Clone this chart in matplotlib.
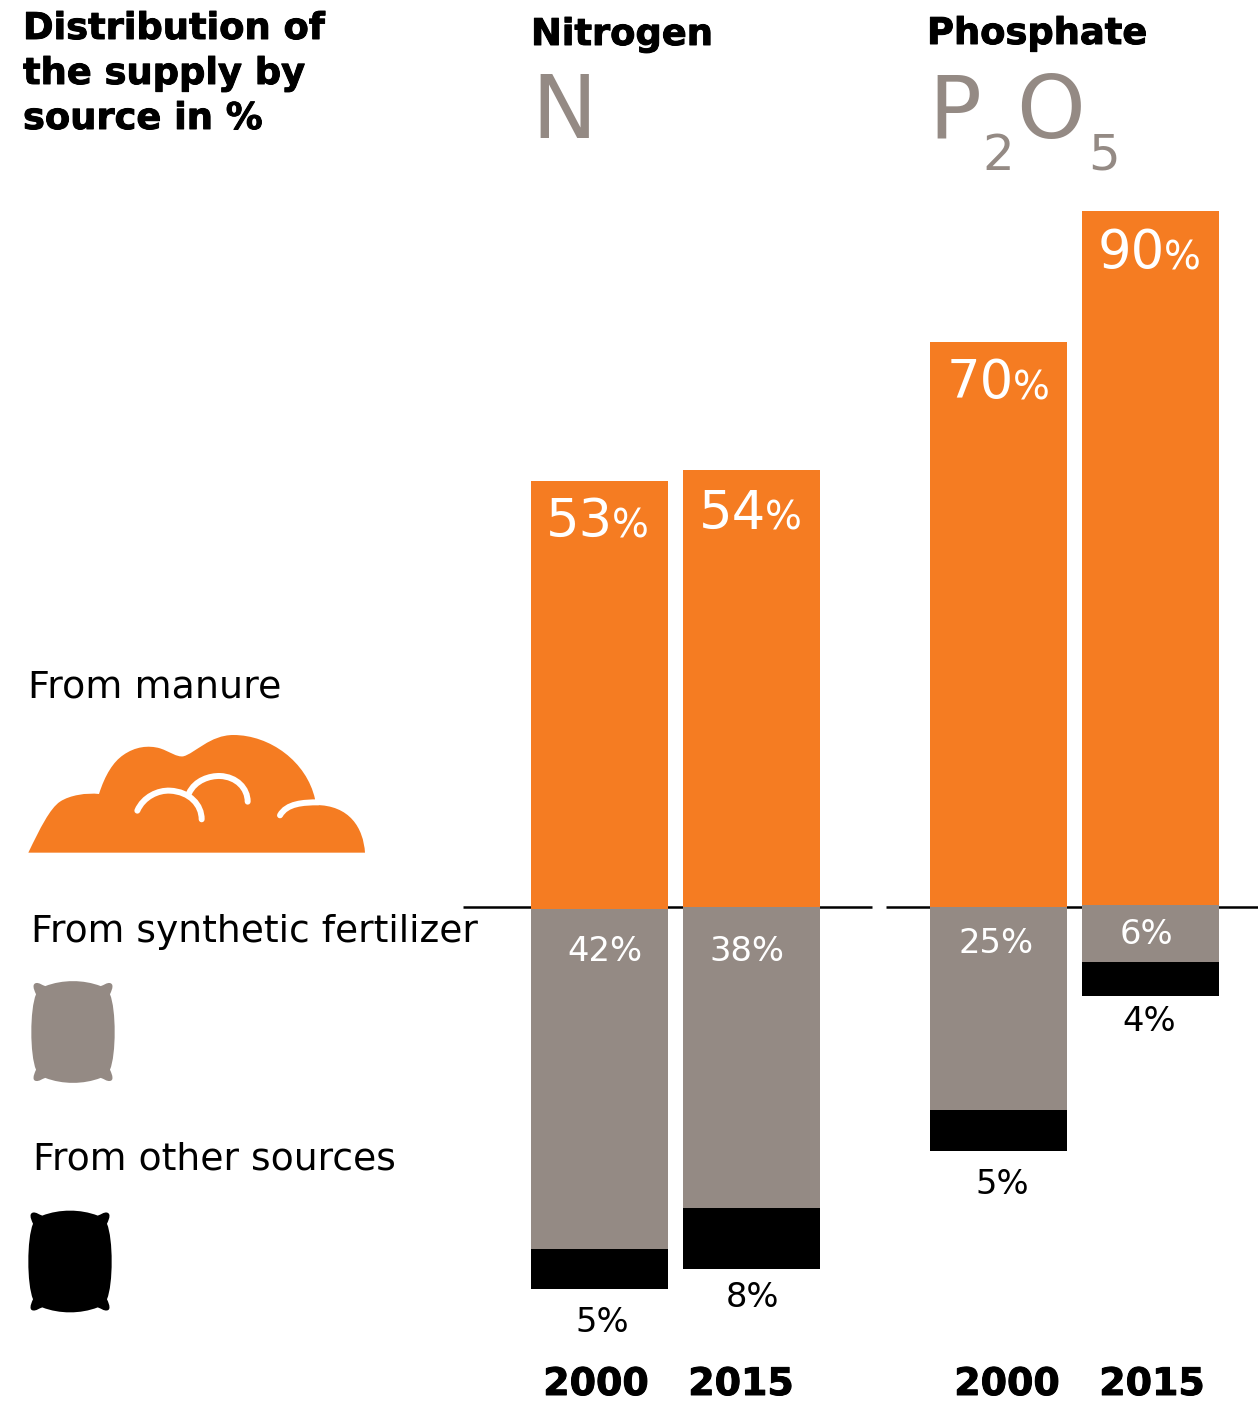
import matplotlib
matplotlib.use("Agg")
import matplotlib.pyplot as plt
import matplotlib.patheffects as pe
from matplotlib.patches import PathPatch
from matplotlib.path import Path

groups = ["Nitrogen", "Phosphate"]
years = ["2000", "2015", "2000", "2015"]
manure_labels = [53, 54, 70, 90]
synthetic_labels = [42, 38, 25, 6]
other_labels = [5, 8, 5, 4]
# heights as drawn in the picture (the printed labels differ slightly)
manure_drawn = [53.2, 54.3, 70.25, 86.2]
synthetic_drawn = [42.2, 37.4, 25.2, 7.1]
other_drawn = [5.0, 7.6, 5.1, 4.2]
base_offset = [-0.25, 0.0, -0.06, 0.25]

ORANGE = "#F57C22"
GREY = "#948A84"
W, H = 1258, 1401
PX_PER_PCT = 8.05
ZERO_Y = 907.0

fig = plt.figure(figsize=(W / 100, H / 100), dpi=100)
ax = fig.add_axes([0, 0, 1, 1])
ax.set_xlim(0, W)
ax.set_ylim((ZERO_Y - H) / PX_PER_PCT, ZERO_Y / PX_PER_PCT)
ax.axis("off")
ov = fig.add_axes([0, 0, 1, 1], zorder=5)
ov.set_xlim(0, W)
ov.set_ylim(H, 0)
ov.axis("off")
ov.patch.set_alpha(0)

bar_left = [531, 683, 930, 1082]
bar_w = 137
ax.plot([463, 872], [0, 0], color="black", lw=1.8, zorder=1, solid_capstyle="butt")
ax.plot([886, 1258], [0, 0], color="black", lw=1.8, zorder=1, solid_capstyle="butt")
for i, x in enumerate(bar_left):
    b = base_offset[i]
    ax.bar(x, manure_drawn[i], bar_w, bottom=b, align="edge", color=ORANGE, zorder=2)
    ax.bar(x, -synthetic_drawn[i], bar_w, bottom=b, align="edge", color=GREY, zorder=2)
    ax.bar(x, -other_drawn[i], bar_w, bottom=b - synthetic_drawn[i], align="edge", color="black", zorder=2)


def t(x, y, s, size, color="black", weight="normal", ha="left", va="baseline"):
    txt = ov.text(x, y, s, fontsize=size, color=color, fontweight=weight, ha=ha, va=va,
                  family="DejaVu Sans")
    if weight == "bold":
        txt.set_path_effects([pe.withStroke(linewidth=0.7, foreground=color)])


for y, s in zip([39, 84, 129], ["Distribution of", "the supply by", "source in %"]):
    t(23, y, s, 26.5, weight="bold")
t(531, 45, groups[0], 26.5, weight="bold")
t(927, 44, groups[1], 26.5, weight="bold")
t(531, 138, "N", 63, GREY)
t(928, 138, "P", 63, GREY)
t(982, 170, "2", 36, GREY)
t(1016, 138, "O", 63, GREY)
t(1088, 170, "5", 36, GREY)

t(28, 697, "From manure", 27.4)
t(31, 942, "From synthetic fertilizer", 27.1)
t(33, 1169, "From other sources", 27.2)

big_x = [546, 699, 947, 1098]
big_y = [537, 529, 398, 268]
for x, y, v in zip(big_x, big_y, manure_labels):
    t(x, y, f"{v}", 38, "white")
    t(x + 66, y + 1, "%", 28, "white")

syn_x = [605, 747, 996, 1146]
syn_y = [961, 961, 953, 944]
for x, y, v in zip(syn_x, syn_y, synthetic_labels):
    t(x, y, f"{v}%", 24.3, "white", ha="center")
oth_x = [602, 753, 1002, 1149]
oth_y = [1332, 1307, 1194, 1031]
for x, y, v in zip(oth_x, oth_y, other_labels):
    t(x, y, f"{v}%", 24.3, "black", ha="center")
for x, s in zip([596, 741, 1007, 1152], years):
    t(x, 1395, s, 27.3, weight="bold", ha="center")


def zc(pts):
    return [(20 + a / 3, 725 + b / 3) for a, b in pts]


M, C, L, Z = Path.MOVETO, Path.CURVE4, Path.LINETO, Path.CLOSEPOLY
cloud = zc([(25, 383), (60, 310), (90, 250), (120, 230), (150, 210), (200, 203), (237, 207),
            (255, 150), (280, 110), (310, 90), (345, 65), (385, 60), (420, 70),
            (450, 80), (470, 97), (490, 94), (525, 85), (570, 30), (640, 30),
            (750, 30), (860, 110), (885, 222), (885, 230), (885, 235), (885, 240),
            (990, 240), (1030, 310), (1035, 383), (1035, 383)])
codes = [M] + [C] * 27 + [L]
ov.add_patch(PathPatch(Path(cloud + [cloud[0]], codes + [Z]), fc=ORANGE, ec="none"))
arcs = [
    [(352, 257), (370, 215), (415, 195), (450, 197), (510, 200), (545, 240), (545, 283)],
    [(507, 205), (525, 165), (570, 152), (600, 153), (650, 155), (683, 190), (683, 230)],
    [(780, 271), (800, 235), (850, 232), (895, 232)],
]
for a in arcs:
    ov.add_patch(PathPatch(Path(zc(a), [M] + [C] * (len(a) - 1)), fc="none", ec="white",
                           lw=4.3, capstyle="round"))


def sack(cx, cy, hw, hh, color):
    # left half outline in unit coordinates, then mirrored
    p = [(-0.66, -0.90),
         (-0.74, -0.92), (-0.80, -0.97), (-0.88, -0.96),
         (-0.97, -0.94), (-0.95, -0.86), (-0.88, -0.74),
         (-1.03, -0.45), (-1.03, 0.45), (-0.88, 0.74),
         (-0.95, 0.86), (-0.97, 0.95), (-0.88, 0.96),
         (-0.80, 0.97), (-0.74, 0.92), (-0.66, 0.90),
         (-0.25, 1.03), (0.25, 1.03), (0.66, 0.90),
         (0.74, 0.92), (0.80, 0.97), (0.88, 0.96),
         (0.97, 0.95), (0.95, 0.86), (0.88, 0.74),
         (1.03, 0.45), (1.03, -0.45), (0.88, -0.74),
         (0.95, -0.86), (0.97, -0.94), (0.88, -0.96),
         (0.80, -0.97), (0.74, -0.92), (0.66, -0.90),
         (0.25, -1.03), (-0.25, -1.03), (-0.66, -0.90)]
    pts = [(cx + a * hw, cy + b * hh) for a, b in p]
    ov.add_patch(PathPatch(Path(pts, [M] + [C] * (len(pts) - 1)), fc=color, ec="none"))


sack(73, 1032, 42, 51, GREY)
sack(70, 1261.5, 42, 51, "black")

fig.savefig("out.png", dpi=100)
